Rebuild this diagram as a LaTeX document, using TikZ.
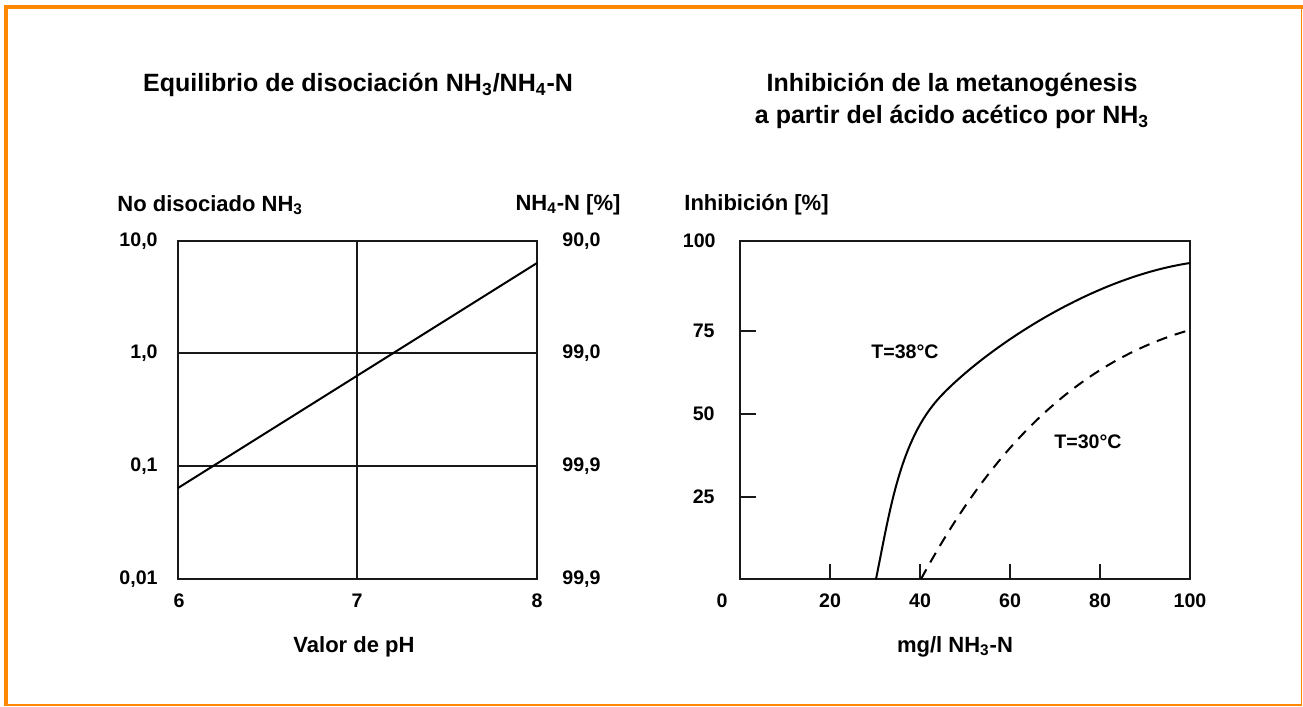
\documentclass[tikz,border=0pt]{standalone}
\usepackage{fontspec}
\setmainfont{Liberation Sans}
\definecolor{framecol}{RGB}{255,136,0}
\definecolor{axcol}{RGB}{25,25,25}
\begin{document}
\begin{tikzpicture}[x=0.5bp,y=-0.5bp,
  ttl/.style={font=\fontsize{12.5bp}{16bp}\selectfont\bfseries, align=center, inner sep=0},
  lab/.style={font=\fontsize{11bp}{13bp}\selectfont\bfseries, inner sep=0},
  ticklab/.style={font=\fontsize{9.8bp}{11bp}\selectfont\bfseries, inner sep=0},
  ax/.style={line width=1bp, draw=axcol},
  crv/.style={line width=1bp, draw=black, line join=round},
  dcrv/.style={crv, dash pattern=on 5.5bp off 4bp}]
\useasboundingbox (0,0) rectangle (1303,706);
% frame
\fill[framecol] (4,5) rectangle (1303,9);
\fill[framecol] (4,5) rectangle (8,706);
\draw[framecol, line width=0.8bp] (1301.3,9) -- (1301.3,706);
\draw[framecol, line width=0.8bp] (8,705.2) -- (1302,705.2);

% ---------- left chart ----------
\node[ttl] (tl) at (358,85) {Equilibrio de disociación NH\textsubscript{3}/NH\textsubscript{4}-N};
\node[lab, anchor=west] (yl) at (117,205) {No disociado NH\textsubscript{3}};
\node[lab] (yr) at (568,205) {NH\textsubscript{4}-N [\%]};
\draw[ax] (178,241) rectangle (537,579);
\draw[ax] (357,241) -- (357,579);
\draw[ax] (178,353) -- (537,353);
\draw[ax] (178,466) -- (537,466);
\coordinate (la) at (178,488);
\coordinate (lb) at (537,263);
\draw[crv] (la) -- (lb);
\node[ticklab, anchor=east] (l1) at (158,241) {10,0};
\node[ticklab, anchor=east] (l2) at (158,353) {1,0};
\node[ticklab, anchor=east] (l3) at (158,466) {0,1};
\node[ticklab, anchor=east] (l4) at (158,579) {0,01};
\node[ticklab, anchor=west] (r1) at (562,241) {90,0};
\node[ticklab, anchor=west] (r2) at (562,353) {99,0};
\node[ticklab, anchor=west] (r3) at (562,466) {99,9};
\node[ticklab, anchor=west] (r4) at (562,579) {99,9};
\node[ticklab] (x6) at (179,601) {6};
\node[ticklab] (x7) at (357,601) {7};
\node[ticklab] (x8) at (537,601) {8};
\node[lab] (xl) at (354,647) {Valor de pH};

% ---------- right chart ----------
\node[ttl] (tr) at (952,101) {Inhibición de la metanogénesis\\a partir del ácido acético por NH\textsubscript{3}};
\node[lab, anchor=west] (yi) at (684,205) {Inhibición [\%]};
\draw[ax] (740,241) rectangle (1190,579);
\foreach \yy in {331,414,497} \draw[ax] (740,\yy) -- (756,\yy);
\foreach \xx in {830,920,1010,1100} \draw[ax] (\xx,579) -- (\xx,564);
\node[ticklab, anchor=east] (i100) at (716,241) {100};
\node[ticklab, anchor=east] (i75) at (715,331) {75};
\node[ticklab, anchor=east] (i50) at (715,414) {50};
\node[ticklab, anchor=east] (i25) at (715,497) {25};
\node[ticklab] (m0) at (722,601) {0};
\node[ticklab] (m20) at (830,601) {20};
\node[ticklab] (m40) at (920,601) {40};
\node[ticklab] (m60) at (1010,601) {60};
\node[ticklab] (m80) at (1100,601) {80};
\node[ticklab] (m100) at (1190,601) {100};
\node[lab] (mx) at (955,647) {mg/l NH\textsubscript{3}-N};
\coordinate (s0) at (876,579);
\coordinate (s1) at (940,397);
\coordinate (s2) at (1190,263);
\draw[crv] (s0) .. controls (890,510) and (900,440) .. (s1)
                .. controls (980,354) and (1085,279) .. (s2);
\coordinate (d0) at (921,579);
\coordinate (d1) at (1190,330);
\draw[dcrv] (d0) .. controls (975,480) and (1055,368) .. (d1);
\node[ticklab] (t38) at (905,352) {T=38°C};
\node[ticklab] (t30) at (1088,442) {T=30°C};
\end{tikzpicture}
\end{document}
